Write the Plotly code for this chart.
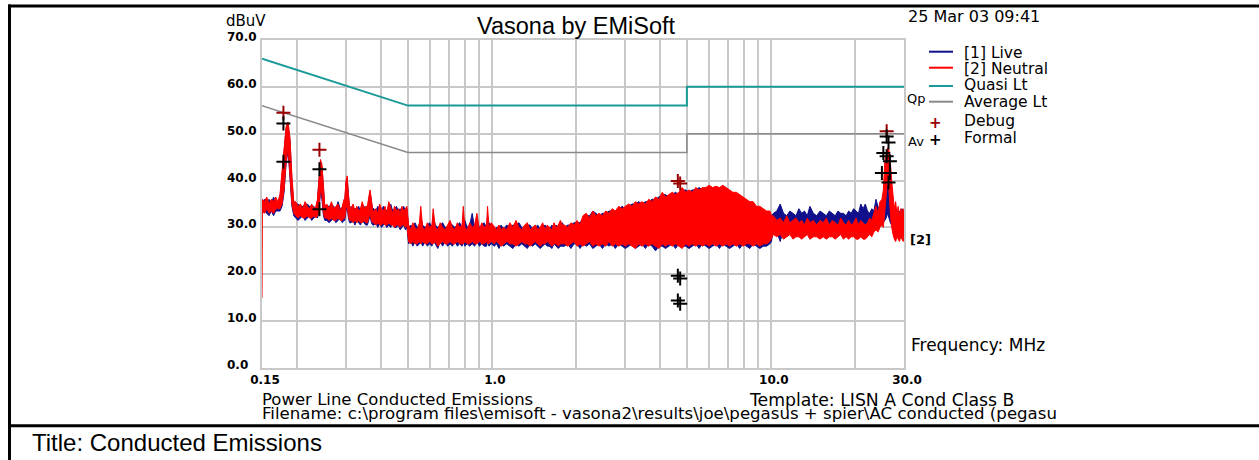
import plotly.graph_objects as go
import math

# ---------------- data ----------------
x_tick_vals = [0.15, 1.0, 10.0, 30.0]
x_tick_text = ["0.15", "1.0", "10.0", "30.0"]
x_grid_vals = [0.2, 0.3, 0.4, 0.5, 0.6, 0.7, 0.8, 0.9, 2, 3, 4, 5, 6, 7, 8, 9, 20]
y_tick_vals = [0, 10, 20, 30, 40, 50, 60, 70]

# limit lines
limit_f = [0.15, 0.5, 5.0, 5.0, 30.0]
quasi_lt = [66.0, 56.0, 56.0, 60.0, 60.0]
average_lt = [56.0, 46.0, 46.0, 50.0, 50.0]

# spectrum min/max envelopes, 0.15 - 0.5 MHz
freq_A = [0.150, 0.1505, 0.153, 0.156, 0.159, 0.162, 0.165, 0.168, 0.171,
          0.174, 0.177, 0.180, 0.183, 0.186, 0.189, 0.192, 0.195,
          0.198, 0.202, 0.206, 0.210, 0.214, 0.218, 0.222, 0.226, 0.230, 0.234,
          0.237, 0.240, 0.243, 0.246, 0.249, 0.252,
          0.256, 0.261, 0.266, 0.271, 0.276, 0.281, 0.286, 0.291, 0.295,
          0.297, 0.300, 0.303, 0.306, 0.309,
          0.313, 0.318, 0.323, 0.328, 0.333, 0.338, 0.343, 0.348, 0.353,
          0.358, 0.362, 0.366, 0.370, 0.374,
          0.378, 0.384, 0.390, 0.396, 0.402, 0.408, 0.414, 0.420, 0.427, 0.434,
          0.441, 0.448, 0.455, 0.462, 0.469, 0.476, 0.483, 0.490, 0.496]
neutral_hi_A = [36.0, 36.0, 35.5, 36.5, 35.0, 36.0, 35.5, 36.5, 35.5,
                37.0, 42.0, 47.0, 51.5, 52.5, 49.0, 41.0, 35.5,
                35.5, 34.5, 35.0, 34.0, 35.5, 34.5, 34.0, 35.0, 34.0, 34.5,
                36.0, 41.0, 44.5, 43.5, 38.0, 34.5,
                35.0, 34.0, 35.5, 34.0, 34.5, 35.0, 33.5, 34.5, 36.0,
                36.0, 40.0, 41.0, 37.0, 34.5,
                34.0, 35.0, 33.5, 34.5, 33.5, 34.0, 35.5, 34.0, 34.5,
                34.5, 36.5, 38.0, 36.0, 33.5,
                33.5, 34.0, 33.0, 35.0, 34.0, 33.5, 34.5, 33.0, 35.5, 34.0,
                33.0, 34.5, 33.5, 34.0, 33.0, 34.5, 33.5, 34.0, 34.5]
neutral_lo_A = [15.0, 33.5, 33.0, 34.0, 33.0, 33.5, 33.0, 34.0, 34.0,
                34.0, 35.0, 38.0, 44.0, 47.0, 42.0, 35.0, 33.0,
                32.5, 32.0, 32.5, 32.0, 32.0, 32.5, 32.0, 32.0, 32.5, 32.0,
                32.5, 34.0, 38.0, 37.0, 33.0, 32.0,
                32.0, 31.5, 32.0, 31.5, 31.5, 32.0, 31.5, 31.5, 32.0,
                32.0, 34.0, 35.0, 32.5, 31.5,
                31.5, 31.0, 31.5, 31.0, 31.5, 31.0, 31.0, 31.5, 31.0,
                31.0, 32.0, 33.0, 31.5, 31.0,
                31.0, 30.5, 31.0, 30.5, 30.5, 31.0, 30.5, 30.5, 31.0, 30.5,
                30.5, 30.0, 30.5, 30.5, 30.0, 30.5, 30.5, 30.0, 30.5]
live_hi_A = [35.5, 35.5, 36.0, 35.5, 36.0, 35.0, 36.5, 35.5, 35.0,
             36.5, 41.0, 46.5, 51.0, 52.0, 48.5, 40.0, 35.0,
             35.0, 35.0, 34.5, 34.5, 35.0, 35.0, 34.5, 34.5, 34.5, 34.0,
             35.5, 40.0, 44.0, 43.0, 37.0, 34.0,
             34.5, 34.5, 35.0, 34.5, 34.0, 35.5, 34.0, 34.0, 35.5,
             35.5, 39.5, 40.5, 36.5, 34.0,
             34.5, 34.0, 34.0, 34.0, 34.5, 33.5, 35.0, 34.5, 34.0,
             34.0, 36.0, 37.5, 35.5, 34.0,
             34.0, 33.5, 34.5, 34.0, 33.5, 34.5, 34.0, 33.5, 34.0, 35.0,
             33.5, 34.0, 34.5, 33.5, 34.0, 33.5, 34.5, 33.5, 34.0]
live_lo_A = [33.5, 33.0, 33.5, 33.0, 32.5, 33.5, 32.5, 33.5, 33.5,
             33.5, 34.5, 37.5, 43.5, 46.5, 41.5, 34.5, 32.5,
             32.0, 31.5, 32.0, 32.5, 31.5, 32.0, 32.5, 31.5, 32.0, 32.5,
             32.0, 33.5, 37.5, 36.0, 32.5, 31.5,
             31.5, 31.0, 31.5, 32.0, 31.0, 31.5, 32.0, 31.0, 31.5,
             31.5, 33.5, 34.5, 32.0, 31.0,
             31.0, 31.5, 30.5, 31.5, 31.0, 30.5, 31.5, 31.0, 30.5,
             30.5, 31.5, 32.5, 31.0, 30.5,
             30.5, 31.0, 30.0, 31.0, 30.0, 30.5, 31.0, 30.0, 30.5, 30.0,
             31.0, 30.0, 30.0, 30.5, 29.5, 30.0, 30.5, 29.5, 30.0]

# 0.5 - 1.8 MHz
freq_B = [0.503, 0.512, 0.521, 0.530, 0.540, 0.550, 0.556, 0.565, 0.576, 0.587,
          0.598, 0.610, 0.616, 0.627, 0.640, 0.653, 0.666, 0.680, 0.694, 0.708,
          0.722, 0.737, 0.752, 0.767, 0.782, 0.790, 0.800, 0.816, 0.833, 0.850,
          0.867, 0.884, 0.902, 0.920, 0.938, 0.957, 0.965, 0.976, 0.995,
          1.02, 1.04, 1.06, 1.08, 1.10, 1.13, 1.16, 1.19, 1.22, 1.25,
          1.28, 1.31, 1.34, 1.37, 1.40, 1.43, 1.46, 1.49, 1.52, 1.55,
          1.58, 1.61, 1.64, 1.67, 1.70, 1.73, 1.76, 1.79]
neutral_hi_B = [30.5, 29.5, 31.0, 30.0, 29.5, 31.0, 34.5, 30.0, 29.5, 31.0,
                30.0, 30.5, 34.0, 30.0, 29.5, 31.0, 30.0, 29.5, 30.5, 31.5,
                30.0, 29.5, 31.0, 30.0, 30.5, 34.5, 30.0, 29.5, 31.0, 30.0,
                30.5, 33.0, 29.5, 31.0, 30.0, 30.5, 34.5, 30.0, 31.0,
                30.0, 29.5, 30.5, 29.5, 30.0, 29.5, 31.0, 30.0, 31.5, 30.0,
                29.5, 30.5, 31.0, 29.5, 30.0, 30.5, 29.5, 30.0, 31.0, 29.5,
                30.5, 30.0, 29.5, 31.0, 30.0, 30.5, 31.5, 30.5]
neutral_lo_B = [27.0, 26.5, 27.0, 26.5, 26.5, 27.0, 26.5, 27.0, 26.5, 26.5,
                27.0, 26.5, 26.5, 27.0, 26.0, 26.5, 27.0, 26.5, 26.5, 27.0,
                26.5, 26.5, 27.0, 26.5, 26.5, 26.5, 27.0, 26.5, 26.5, 27.0,
                26.5, 26.5, 27.0, 26.5, 26.5, 27.0, 26.5, 26.5, 27.0,
                26.5, 27.0, 26.5, 26.0, 26.5, 27.0, 26.5, 26.5, 26.0, 26.5,
                27.0, 26.5, 26.5, 26.0, 26.5, 27.0, 26.5, 26.0, 26.5, 26.5,
                27.0, 26.5, 26.0, 26.5, 26.5, 26.0, 26.5, 26.5]
live_hi_B = [30.0, 30.5, 30.0, 31.0, 30.0, 30.5, 32.0, 30.5, 30.0, 30.5,
             31.0, 30.0, 32.5, 30.5, 30.0, 30.5, 31.0, 30.0, 30.0, 31.0,
             30.5, 30.0, 30.5, 31.0, 30.0, 32.0, 31.5, 30.0, 30.5, 33.0,
             30.0, 31.5, 30.0, 30.5, 31.0, 30.0, 32.5, 31.0, 30.5,
             29.5, 30.0, 30.0, 30.5, 29.5, 30.5, 30.0, 30.5, 30.5, 31.0,
             30.0, 29.5, 30.5, 30.5, 29.5, 30.0, 30.5, 29.5, 30.0, 30.5,
             30.0, 29.5, 30.5, 30.0, 30.5, 30.0, 30.5, 31.0]
live_lo_B = [26.5, 27.0, 26.0, 27.0, 26.0, 26.5, 27.0, 26.0, 27.0, 26.0,
             26.5, 26.0, 27.0, 26.5, 25.5, 27.0, 26.0, 27.0, 26.0, 26.5,
             26.0, 27.0, 26.0, 26.5, 26.0, 27.0, 26.0, 26.5, 26.0, 26.5,
             26.0, 27.0, 26.0, 26.5, 26.0, 26.0, 27.0, 26.0, 26.5,
             26.0, 26.5, 25.5, 26.5, 26.0, 26.5, 26.0, 25.5, 26.5, 26.0,
             26.5, 26.0, 25.5, 26.5, 26.0, 26.5, 26.0, 25.5, 26.0, 26.5,
             26.0, 26.0, 25.5, 26.5, 26.0, 25.5, 26.0, 26.0]

# 1.8 - 10 MHz (dense band)
freq_C = [1.82, 1.87, 1.92, 1.97, 2.02, 2.07, 2.12, 2.18, 2.24, 2.30,
          2.36, 2.42, 2.49, 2.56, 2.63, 2.70, 2.77, 2.85, 2.93, 3.01,
          3.09, 3.18, 3.27, 3.36, 3.45, 3.55, 3.65, 3.75, 3.86, 3.97,
          4.08, 4.19, 4.31, 4.43, 4.55, 4.68, 4.81, 4.95, 5.09, 5.23,
          5.38, 5.53, 5.69, 5.85, 6.01, 6.18, 6.36, 6.54, 6.72, 6.91,
          7.11, 7.31, 7.52, 7.73, 7.95, 8.17, 8.40, 8.64, 8.88, 9.13,
          9.39, 9.65, 9.92, 10.05]
neutral_hi_C = [30.5, 30.0, 31.0, 30.5, 31.5, 30.5, 32.5, 33.0, 32.0, 33.5,
                32.5, 33.0, 32.5, 33.5, 33.0, 34.0, 33.5, 34.5, 34.0, 34.5,
                35.0, 34.5, 35.5, 35.0, 35.5, 35.0, 36.0, 35.5, 36.5, 36.0,
                37.5, 36.5, 37.0, 37.5, 37.0, 37.5, 38.5, 37.5, 38.0, 37.5,
                38.5, 38.0, 38.5, 38.5, 39.0, 38.5, 38.8, 38.5, 39.0, 38.5,
                38.0, 37.5, 37.5, 37.0, 36.5, 36.0, 35.5, 35.5, 34.5, 34.5,
                34.0, 33.5, 33.5, 32.5]
neutral_lo_C = [26.5, 26.0, 26.5, 27.0, 26.0, 26.5, 26.0, 26.5, 27.0, 26.0,
                26.5, 26.0, 26.5, 26.0, 27.0, 26.0, 26.5, 26.0, 26.5, 26.0,
                26.5, 26.0, 25.5, 26.5, 26.0, 26.5, 26.0, 26.5, 26.0, 25.5,
                26.5, 26.0, 26.5, 26.0, 26.5, 26.0, 25.5, 26.5, 26.0, 26.5,
                26.0, 26.5, 26.0, 26.5, 26.0, 26.5, 26.0, 26.5, 26.0, 26.5,
                26.0, 26.5, 26.0, 26.5, 26.0, 26.5, 26.5, 26.0, 26.5, 26.0,
                26.5, 26.5, 27.0, 27.5]
live_hi_C = [30.0, 30.5, 30.5, 31.0, 31.0, 31.0, 32.0, 32.5, 32.5, 33.5,
             33.0, 32.5, 33.0, 33.0, 33.5, 33.5, 33.0, 34.0, 34.5, 34.0,
             34.5, 35.0, 35.0, 35.5, 35.0, 35.5, 35.5, 36.0, 36.0, 36.5,
             37.0, 37.0, 36.5, 37.0, 37.5, 37.0, 38.0, 38.0, 37.5, 38.0,
             38.0, 38.5, 38.0, 38.0, 38.5, 38.0, 38.5, 38.0, 38.5, 38.0,
             37.5, 37.0, 37.0, 36.5, 36.0, 35.5, 35.0, 35.0, 34.0, 34.0,
             33.5, 33.0, 33.0, 32.5]
live_lo_C = [26.0, 26.5, 25.5, 26.5, 26.5, 25.5, 26.5, 26.0, 26.5, 25.5,
             26.0, 26.5, 25.5, 26.5, 26.0, 26.5, 25.5, 26.5, 26.0, 25.5,
             26.0, 26.5, 25.5, 26.0, 26.5, 25.5, 26.5, 26.0, 25.0, 26.0,
             26.0, 25.5, 26.0, 26.5, 25.5, 26.5, 26.0, 26.0, 25.5, 26.0,
             26.5, 25.5, 26.5, 26.0, 25.5, 26.0, 26.5, 25.5, 26.5, 26.0,
             25.5, 26.0, 26.5, 25.5, 26.5, 26.0, 25.5, 26.5, 26.0, 25.5,
             26.0, 26.0, 26.5, 27.0]

# 10 - 30 MHz
freq_D = [10.2, 10.5, 10.8, 11.1, 11.4, 11.7, 12.0, 12.3, 12.6, 12.9,
          13.2, 13.5, 13.8, 14.2, 14.6, 15.0, 15.4, 15.8, 16.2, 16.6,
          17.0, 17.4, 17.8, 18.2, 18.6, 19.0, 19.4, 19.8, 20.2, 20.6,
          21.0, 21.4, 21.8, 22.2, 22.6, 23.0, 23.4, 23.8, 24.2, 24.6,
          25.0, 25.3, 25.6, 25.9, 26.2, 26.5, 26.8, 27.1, 27.4, 27.7,
          28.0, 28.3, 28.6, 28.9, 29.2, 29.5, 29.8, 30.0]
neutral_hi_D = [32.5, 31.5, 32.0, 31.0, 32.5, 31.0, 31.5, 32.0, 31.0, 31.5,
                30.5, 32.0, 31.0, 31.5, 30.5, 31.5, 31.0, 32.0, 30.5, 31.5,
                31.0, 30.5, 32.0, 31.0, 30.5, 31.5, 30.5, 31.0, 32.0, 30.5,
                31.5, 31.0, 30.5, 31.0, 32.0, 31.5, 33.0, 34.5, 33.0, 35.5,
                36.0, 38.0, 44.0, 46.0, 47.0, 46.5, 44.0, 40.0, 36.0, 34.0,
                35.5, 33.0, 34.5, 32.5, 34.0, 33.0, 34.0, 32.0]
neutral_lo_D = [28.5, 28.0, 28.5, 27.5, 28.0, 28.5, 27.5, 28.0, 28.0, 27.5,
                28.0, 28.5, 27.5, 28.0, 28.0, 27.5, 28.0, 27.5, 28.0, 28.0,
                27.5, 28.0, 28.5, 27.5, 28.0, 27.5, 28.0, 28.0, 27.5, 27.5,
                28.0, 27.5, 27.5, 28.0, 28.5, 28.0, 29.0, 29.5, 29.0, 30.0,
                30.5, 30.0, 32.0, 36.0, 40.0, 38.0, 33.0, 30.0, 28.5, 27.5,
                27.0, 28.0, 27.5, 27.0, 28.0, 27.5, 27.0, 28.0]
live_hi_D = [33.0, 33.5, 35.0, 33.0, 32.5, 33.5, 33.0, 32.5, 34.0, 33.0,
             33.5, 32.5, 34.5, 33.0, 32.5, 33.5, 33.0, 32.5, 33.5, 33.0,
             32.5, 33.5, 33.0, 33.0, 32.5, 33.5, 33.0, 34.0, 33.5, 33.0,
             35.0, 34.0, 35.0, 33.5, 33.0, 34.0, 33.5, 36.0, 34.5, 33.5,
             34.0, 35.0, 36.0, 38.0, 40.0, 39.0, 36.0, 34.0, 33.5, 33.0,
             34.0, 33.5, 32.5, 33.5, 33.0, 34.0, 33.5, 33.0]
live_lo_D = [29.5, 29.0, 27.0, 29.5, 29.0, 30.0, 29.5, 29.0, 29.5, 30.0,
             29.5, 29.0, 27.5, 29.5, 30.0, 29.5, 30.0, 30.5, 30.0, 29.5,
             30.0, 30.5, 30.0, 30.5, 30.0, 30.5, 30.0, 30.5, 30.5, 30.0,
             30.5, 31.0, 30.5, 30.0, 30.5, 30.0, 31.0, 30.5, 30.0, 30.5,
             31.0, 31.0, 31.5, 32.0, 33.0, 32.0, 31.0, 30.5, 30.0, 31.0,
             30.5, 30.0, 31.0, 30.5, 30.0, 31.0, 30.5, 31.0]

# measured points
debug_f = [0.179, 0.241, 4.64, 4.73, 26.0]
debug_v = [54.5, 46.6, 39.9, 39.4, 50.5]
formal_f = [0.179, 0.179, 0.241, 0.241, 4.64, 4.73, 4.64, 4.73,
            26.0, 26.4, 25.3, 26.0, 26.7, 25.0, 26.7, 26.4]
formal_v = [52.2, 44.0, 42.4, 33.9, 19.7, 19.1, 14.4, 13.7,
            49.4, 48.1, 45.9, 45.2, 44.1, 41.6, 41.6, 39.6]

# ---------------- assemble ----------------
freq = freq_A + freq_B + freq_C + freq_D
neutral_hi = neutral_hi_A + neutral_hi_B + neutral_hi_C + neutral_hi_D
neutral_lo = neutral_lo_A + neutral_lo_B + neutral_lo_C + neutral_lo_D
live_hi = live_hi_A + live_hi_B + live_hi_C + live_hi_D
live_lo = live_lo_A + live_lo_B + live_lo_C + live_lo_D
for arr in (neutral_hi, neutral_lo, live_hi, live_lo):
    assert len(arr) == len(freq), (len(arr), len(freq))

W, H = 1259, 460
L, R, T, B = 262, 904, 40, 368
PW, PH = R - L, B - T


def px(x):
    return (x - L) / PW


def py(y):
    return (B - y) / PH


C_LIVE = "#10108c"
C_NEUT = "#ff0000"
C_QUASI = "#1a9a96"
C_AVG = "#8a8a8a"
C_DEBUG = "#990000"
GRID = "#c8c8c8"
BMP = "DejaVu Sans"

fig = go.Figure()


def band(hi, lo, color):
    return go.Scatter(x=freq + freq[::-1], y=hi + lo[::-1], mode="lines",
                      fill="toself", fillcolor=color,
                      line=dict(color=color, width=1),
                      hoverinfo="skip", showlegend=False)


fig.add_trace(band(live_hi, live_lo, C_LIVE))
fig.add_trace(band(neutral_hi, neutral_lo, C_NEUT))
fig.add_trace(go.Scatter(x=limit_f, y=quasi_lt, mode="lines",
                         line=dict(color=C_QUASI, width=2), showlegend=False))
fig.add_trace(go.Scatter(x=limit_f, y=average_lt, mode="lines",
                         line=dict(color=C_AVG, width=1.5), showlegend=False))
fig.add_trace(go.Scatter(x=debug_f, y=debug_v, mode="markers",
                         marker=dict(symbol="cross-thin", size=10,
                                     line=dict(color=C_DEBUG, width=2)),
                         showlegend=False))
fig.add_trace(go.Scatter(x=formal_f, y=formal_v, mode="markers",
                         marker=dict(symbol="cross-thin", size=10,
                                     line=dict(color="black", width=2)),
                         showlegend=False))

ann = []
# y tick labels (left aligned, like the original)
for v in y_tick_vals:
    ann.append(dict(text=f"{v:.1f}", x=px(225), y=v, xref="paper", yref="y",
                    xanchor="left", yanchor="middle", yshift=3, showarrow=False,
                    font=dict(family=BMP, size=12, color="black", weight="bold")))


def label(text, x, y, size=16, anchor="left", family=BMP, color="black", weight="normal"):
    ann.append(dict(text=text, x=px(x), y=py(y), xref="paper", yref="paper",
                    xanchor=anchor, yanchor="middle", showarrow=False, borderpad=0,
                    font=dict(family=family, size=size, color=color, weight=weight)))


label("dBuV", 246, 21, size=15, anchor="center")
label("Vasona by EMiSoft", 576, 26.5, size=23.5, anchor="center", family="Liberation Sans")
label("25 Mar 03 09:41", 907, 16.5, size=16)

legend_rows = [("[1] Live", 53), ("[2] Neutral", 69), ("Quasi Lt", 85.5),
               ("Average Lt", 101.7), ("Debug", 120.5), ("Formal", 137.5)]
for txt, yy in legend_rows:
    label(txt, 963, yy, size=15.5)
label("+", 935, 123.5, size=15, anchor="center", color=C_DEBUG, weight="bold")
label("+", 935, 139.5, size=15, anchor="center", color="black", weight="bold")

label("Qp", 906, 98, size=13)
label("Av", 907, 141, size=13)
label("[2]", 909, 239, size=13, weight="bold")
label("Frequency: MHz", 910, 345, size=17)
label("Power Line Conducted Emissions", 261, 399.5, size=16.5)
label("Template: LISN A Cond Class B", 748, 399.5, size=17.3)
label(r"Filename: c:\program files\emisoft - vasona2\results\joe\pegasus + spier\AC conducted (pegasu",
      261, 413.5, size=16.6)
label("Title: Conducted Emissions", 31, 442, size=24, family="Liberation Sans")

shapes = []
for color, yy in [(C_LIVE, 51.7), (C_NEUT, 67.7), (C_QUASI, 86), (C_AVG, 101.7)]:
    shapes.append(dict(type="line", xref="paper", yref="paper",
                       x0=px(929), x1=px(953), y0=py(yy), y1=py(yy),
                       line=dict(color=color, width=2)))
# page frame
frame = dict(color="black", width=3)
shapes.append(dict(type="line", xref="paper", yref="paper", x0=px(8), x1=px(1262),
                   y0=py(6), y1=py(6), line=frame))
shapes.append(dict(type="line", xref="paper", yref="paper", x0=px(9.5), x1=px(9.5),
                   y0=py(4.5), y1=py(465), line=frame))
shapes.append(dict(type="line", xref="paper", yref="paper", x0=px(8), x1=px(1262),
                   y0=py(425.8), y1=py(425.8), line=frame))

fig.update_layout(
    width=W, height=H,
    margin=dict(l=L, r=W - R, t=T, b=H - B, pad=0),
    paper_bgcolor="white", plot_bgcolor="white",
    showlegend=False,
    annotations=ann, shapes=shapes,
    xaxis=dict(type="log", range=[math.log10(0.15), math.log10(30)],
               tickvals=x_tick_vals + x_grid_vals,
               ticktext=x_tick_text + [""] * len(x_grid_vals),
               showgrid=True, gridcolor=GRID, gridwidth=2,
               showline=True, linecolor=GRID, linewidth=2, mirror=True,
               zeroline=False, ticks="", ticklabelshift=3,
               tickfont=dict(family=BMP, size=12, color="black", weight="bold")),
    yaxis=dict(range=[0, 70], tickvals=y_tick_vals, showticklabels=False,
               showgrid=True, gridcolor=GRID, gridwidth=2,
               showline=True, linecolor=GRID, linewidth=2, mirror=True,
               zeroline=False, ticks=""),
)

fig.write_html("out.html", config={"displayModeBar": False},
               post_script="document.body.style.margin='0';document.body.style.overflow='hidden';")
